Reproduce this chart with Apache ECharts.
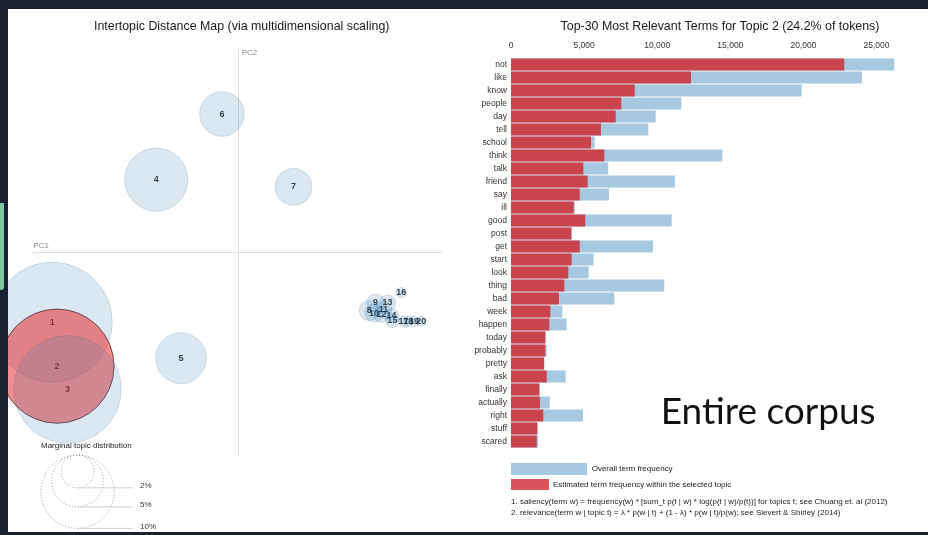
<!DOCTYPE html>
<html>
<head>
<meta charset="utf-8">
<script src="https://cdn.jsdelivr.net/npm/echarts@6/dist/echarts.min.js"></script>
<style>
  html, body { margin: 0; padding: 0; background: #1b2130; }
  #chart { position: absolute; left: 8px; top: 9px; width: 920px; height: 523px; overflow: hidden; }
  #tab { position: absolute; left: 0; top: 203px; width: 4px; height: 87px; background: #79c9a1; border-radius: 0 0 3px 0; }
</style>
</head>
<body>
<div id="tab"></div>
<div id="chart"></div>
<script>
// ---- Intertopic distance map: topic positions on the first two principal components ----
const topicIds = [1, 2, 3, 4, 5, 6, 7, 8, 9, 10, 11, 12, 13, 14, 15, 16, 17, 18, 19, 20];
const topicPC1 = [-0.232, -0.226, -0.213, -0.102, -0.071, -0.020, 0.0695, 0.164, 0.172, 0.170, 0.182, 0.179, 0.187, 0.192, 0.193, 0.204, 0.207, 0.213, 0.220, 0.229];
const topicPC2 = [-0.087, -0.142, -0.171, 0.091, -0.132, 0.173, 0.082, -0.0725, -0.063, -0.0757, -0.0716, -0.0778, -0.063, -0.079, -0.085, -0.050, -0.086, -0.086, -0.086, -0.086];
// marginal topic distribution, % of tokens
const topicFreq = [26.8, 24.2, 21.5, 7.4, 4.8, 3.7, 2.5, 0.74, 0.6, 0.6, 0.48, 0.42, 0.48, 0.36, 0.36, 0.19, 0.22, 0.19, 0.19, 0.19];
const selectedTopic = 2;
const legendFreq = [2, 5, 10];

// ---- Top-30 relevant terms for the selected topic ----
const terms = ['not', 'like', 'know', 'people', 'day', 'tell', 'school', 'think', 'talk', 'friend', 'say', 'ill', 'good', 'post', 'get', 'start', 'look', 'thing', 'bad', 'week', 'happen', 'today', 'probably', 'pretty', 'ask', 'finally', 'actually', 'right', 'stuff', 'scared'];
const overallFreq = [26210, 24000, 19880, 11650, 9890, 9390, 5720, 14450, 6650, 11210, 6700, 4360, 10990, 4160, 9710, 5650, 5310, 10480, 7060, 3510, 3810, 2370, 2440, 2280, 3740, 1960, 2650, 4920, 1820, 1850];
const topicTermFreq = [22790, 12310, 8460, 7540, 7160, 6150, 5470, 6380, 4950, 5240, 4700, 4290, 5080, 4130, 4700, 4150, 3920, 3650, 3280, 2690, 2620, 2350, 2350, 2260, 2440, 1940, 1980, 2210, 1800, 1760];
const freqTicks = [0, 5000, 10000, 15000, 20000, 25000];

// circle radius grows with the square root of a topic's share
const RADIUS_K = 11.6;
const radiusOf = p => RADIUS_K * Math.sqrt(p);

const FONT = 'Liberation Sans, Arial, Helvetica, sans-serif';

const circleData = topicIds.map((id, i) => {
  const sel = id === selectedTopic;
  return {
    value: [topicPC1[i], topicPC2[i]],
    symbolSize: 2 * radiusOf(topicFreq[i]),
    itemStyle: sel
      ? { color: 'rgba(232,38,40,0.66)', borderColor: '#4a2f35', borderWidth: 1 }
      : { color: 'rgba(31,110,170,0.2)', borderColor: 'rgba(40,90,130,0.22)', borderWidth: 1 }
  };
});
const labelData = topicIds.map((id, i) => ({ value: [topicPC1[i], topicPC2[i]], name: String(id) }));

// marginal-distribution key: dotted circles sharing a common top edge
const keyCx = 69.5, keyTop = 446, keyLineEnd = 124.7, keyTextX = 132;
const keyGraphics = [];
legendFreq.forEach(p => {
  const r = radiusOf(p);
  keyGraphics.push({
    type: 'circle', shape: { cx: keyCx, cy: keyTop + r, r: r },
    style: { fill: 'none', stroke: '#9a9a9a', lineWidth: 1, lineDash: [1, 2] }, silent: true
  });
  keyGraphics.push({
    type: 'line', shape: { x1: keyCx, y1: keyTop + 2 * r, x2: keyLineEnd, y2: keyTop + 2 * r },
    style: { stroke: '#d0d0d0', lineWidth: 1 }, silent: true
  });
  keyGraphics.push({
    type: 'text', x: keyTextX, y: keyTop + 2 * r - 2,
    style: { text: p + '%', font: '8px ' + FONT, fill: '#333', textVerticalAlign: 'middle' }, silent: true
  });
});

const chart = echarts.init(document.getElementById('chart'), null, { renderer: 'canvas' });
chart.setOption({
  animation: false,
  backgroundColor: '#ffffff',
  title: [
    { text: 'Intertopic Distance Map (via multidimensional scaling)', left: 228.7, top: 7, textAlign: 'center',
      textStyle: { fontFamily: FONT, fontSize: 12.4, fontWeight: 'normal', color: '#1a1a1a' } },
    { text: 'Top-30 Most Relevant Terms for Topic 2 (24.2% of tokens)', left: 707, top: 7, textAlign: 'center',
      textStyle: { fontFamily: FONT, fontSize: 12.4, fontWeight: 'normal', color: '#1a1a1a' } }
  ],
  grid: [
    { left: 25, top: 41, width: 409, height: 405 },
    { left: 503, top: 49, width: 394.8, height: 390 }
  ],
  xAxis: [
    { gridIndex: 0, type: 'value', min: -0.256, max: 0.255,
      axisLine: { show: true, onZero: true, lineStyle: { color: '#dedede', width: 1 } },
      axisTick: { show: false }, axisLabel: { show: false }, splitLine: { show: false } },
    { gridIndex: 1, type: 'value', position: 'top', min: 0, max: 27000, interval: 5000,
      axisLine: { show: false }, axisTick: { show: false }, splitLine: { show: false },
      axisLabel: { margin: 8, fontFamily: FONT, fontSize: 8.5, color: '#333',
        formatter: v => freqTicks.indexOf(v) >= 0 ? v.toLocaleString('en-US') : '' } }
  ],
  yAxis: [
    { gridIndex: 0, type: 'value', min: -0.253, max: 0.253,
      axisLine: { show: true, onZero: true, lineStyle: { color: '#dedede', width: 1 } },
      axisTick: { show: false }, axisLabel: { show: false }, splitLine: { show: false } },
    { gridIndex: 1, type: 'category', data: terms, inverse: true,
      axisLine: { show: false }, axisTick: { show: false }, splitLine: { show: false },
      axisLabel: { margin: 4, fontFamily: FONT, fontSize: 8.5, color: '#333' } }
  ],
  series: [
    { type: 'scatter', name: 'labels', xAxisIndex: 0, yAxisIndex: 0, z: 1, symbolSize: 1,
      itemStyle: { color: 'rgba(0,0,0,0)' }, data: labelData, silent: true,
      label: { show: true, position: 'inside', formatter: p => p.name,
        fontFamily: FONT, fontSize: 9, fontWeight: 'bold', color: '#000' } },
    { type: 'scatter', name: 'topics', xAxisIndex: 0, yAxisIndex: 0, z: 2, symbol: 'circle',
      data: circleData, silent: true },
    { type: 'bar', name: 'Overall term frequency', xAxisIndex: 1, yAxisIndex: 1, data: overallFreq,
      barWidth: 12, barGap: '-100%', itemStyle: { color: '#a6c8e1' }, silent: true },
    { type: 'bar', name: 'Estimated term frequency within the selected topic', xAxisIndex: 1, yAxisIndex: 1,
      data: topicTermFreq, barWidth: 12, barGap: '-100%', itemStyle: { color: '#c9444c' }, silent: true }
  ],
  graphic: [
    { type: 'text', x: 233.7, y: 44, style: { text: 'PC2', font: '8px ' + FONT, fill: '#8a8a8a', textVerticalAlign: 'middle' }, silent: true },
    { type: 'text', x: 25.3, y: 237, style: { text: 'PC1', font: '8px ' + FONT, fill: '#8a8a8a', textVerticalAlign: 'middle' }, silent: true },
    { type: 'text', x: 33, y: 436.7, style: { text: 'Marginal topic distribution', font: '8px ' + FONT, fill: '#222', textVerticalAlign: 'middle' }, silent: true },
    ...keyGraphics,
    { type: 'rect', shape: { x: 503, y: 454, width: 76, height: 12 }, style: { fill: '#a6c8e1' }, silent: true },
    { type: 'text', x: 583.7, y: 460, style: { text: 'Overall term frequency', font: '8px ' + FONT, fill: '#222', textVerticalAlign: 'middle' }, silent: true },
    { type: 'rect', shape: { x: 503, y: 470, width: 38, height: 11 }, style: { fill: '#d9545a' }, silent: true },
    { type: 'text', x: 545, y: 475.5, style: { text: 'Estimated term frequency within the selected topic', font: '8px ' + FONT, fill: '#222', textVerticalAlign: 'middle' }, silent: true },
    { type: 'text', x: 503, y: 493, style: { text: '1. saliency(term w) = frequency(w) * [sum_t p(t | w) * log(p(t | w)/p(t))] for topics t; see Chuang et. al (2012)', font: '8px ' + FONT, fill: '#222', textVerticalAlign: 'middle' }, silent: true },
    { type: 'text', x: 503, y: 504, style: { text: '2. relevance(term w | topic t) = λ * p(w | t) + (1 - λ) * p(w | t)/p(w); see Sievert & Shirley (2014)', font: '8px ' + FONT, fill: '#222', textVerticalAlign: 'middle' }, silent: true },
    { type: 'text', x: 652.7, y: 385, style: { text: 'Entire corpus', font: '37px Lato', fill: '#111', textVerticalAlign: 'alphabetic' }, silent: true }
  ]
});
</script>
</body>
</html>
